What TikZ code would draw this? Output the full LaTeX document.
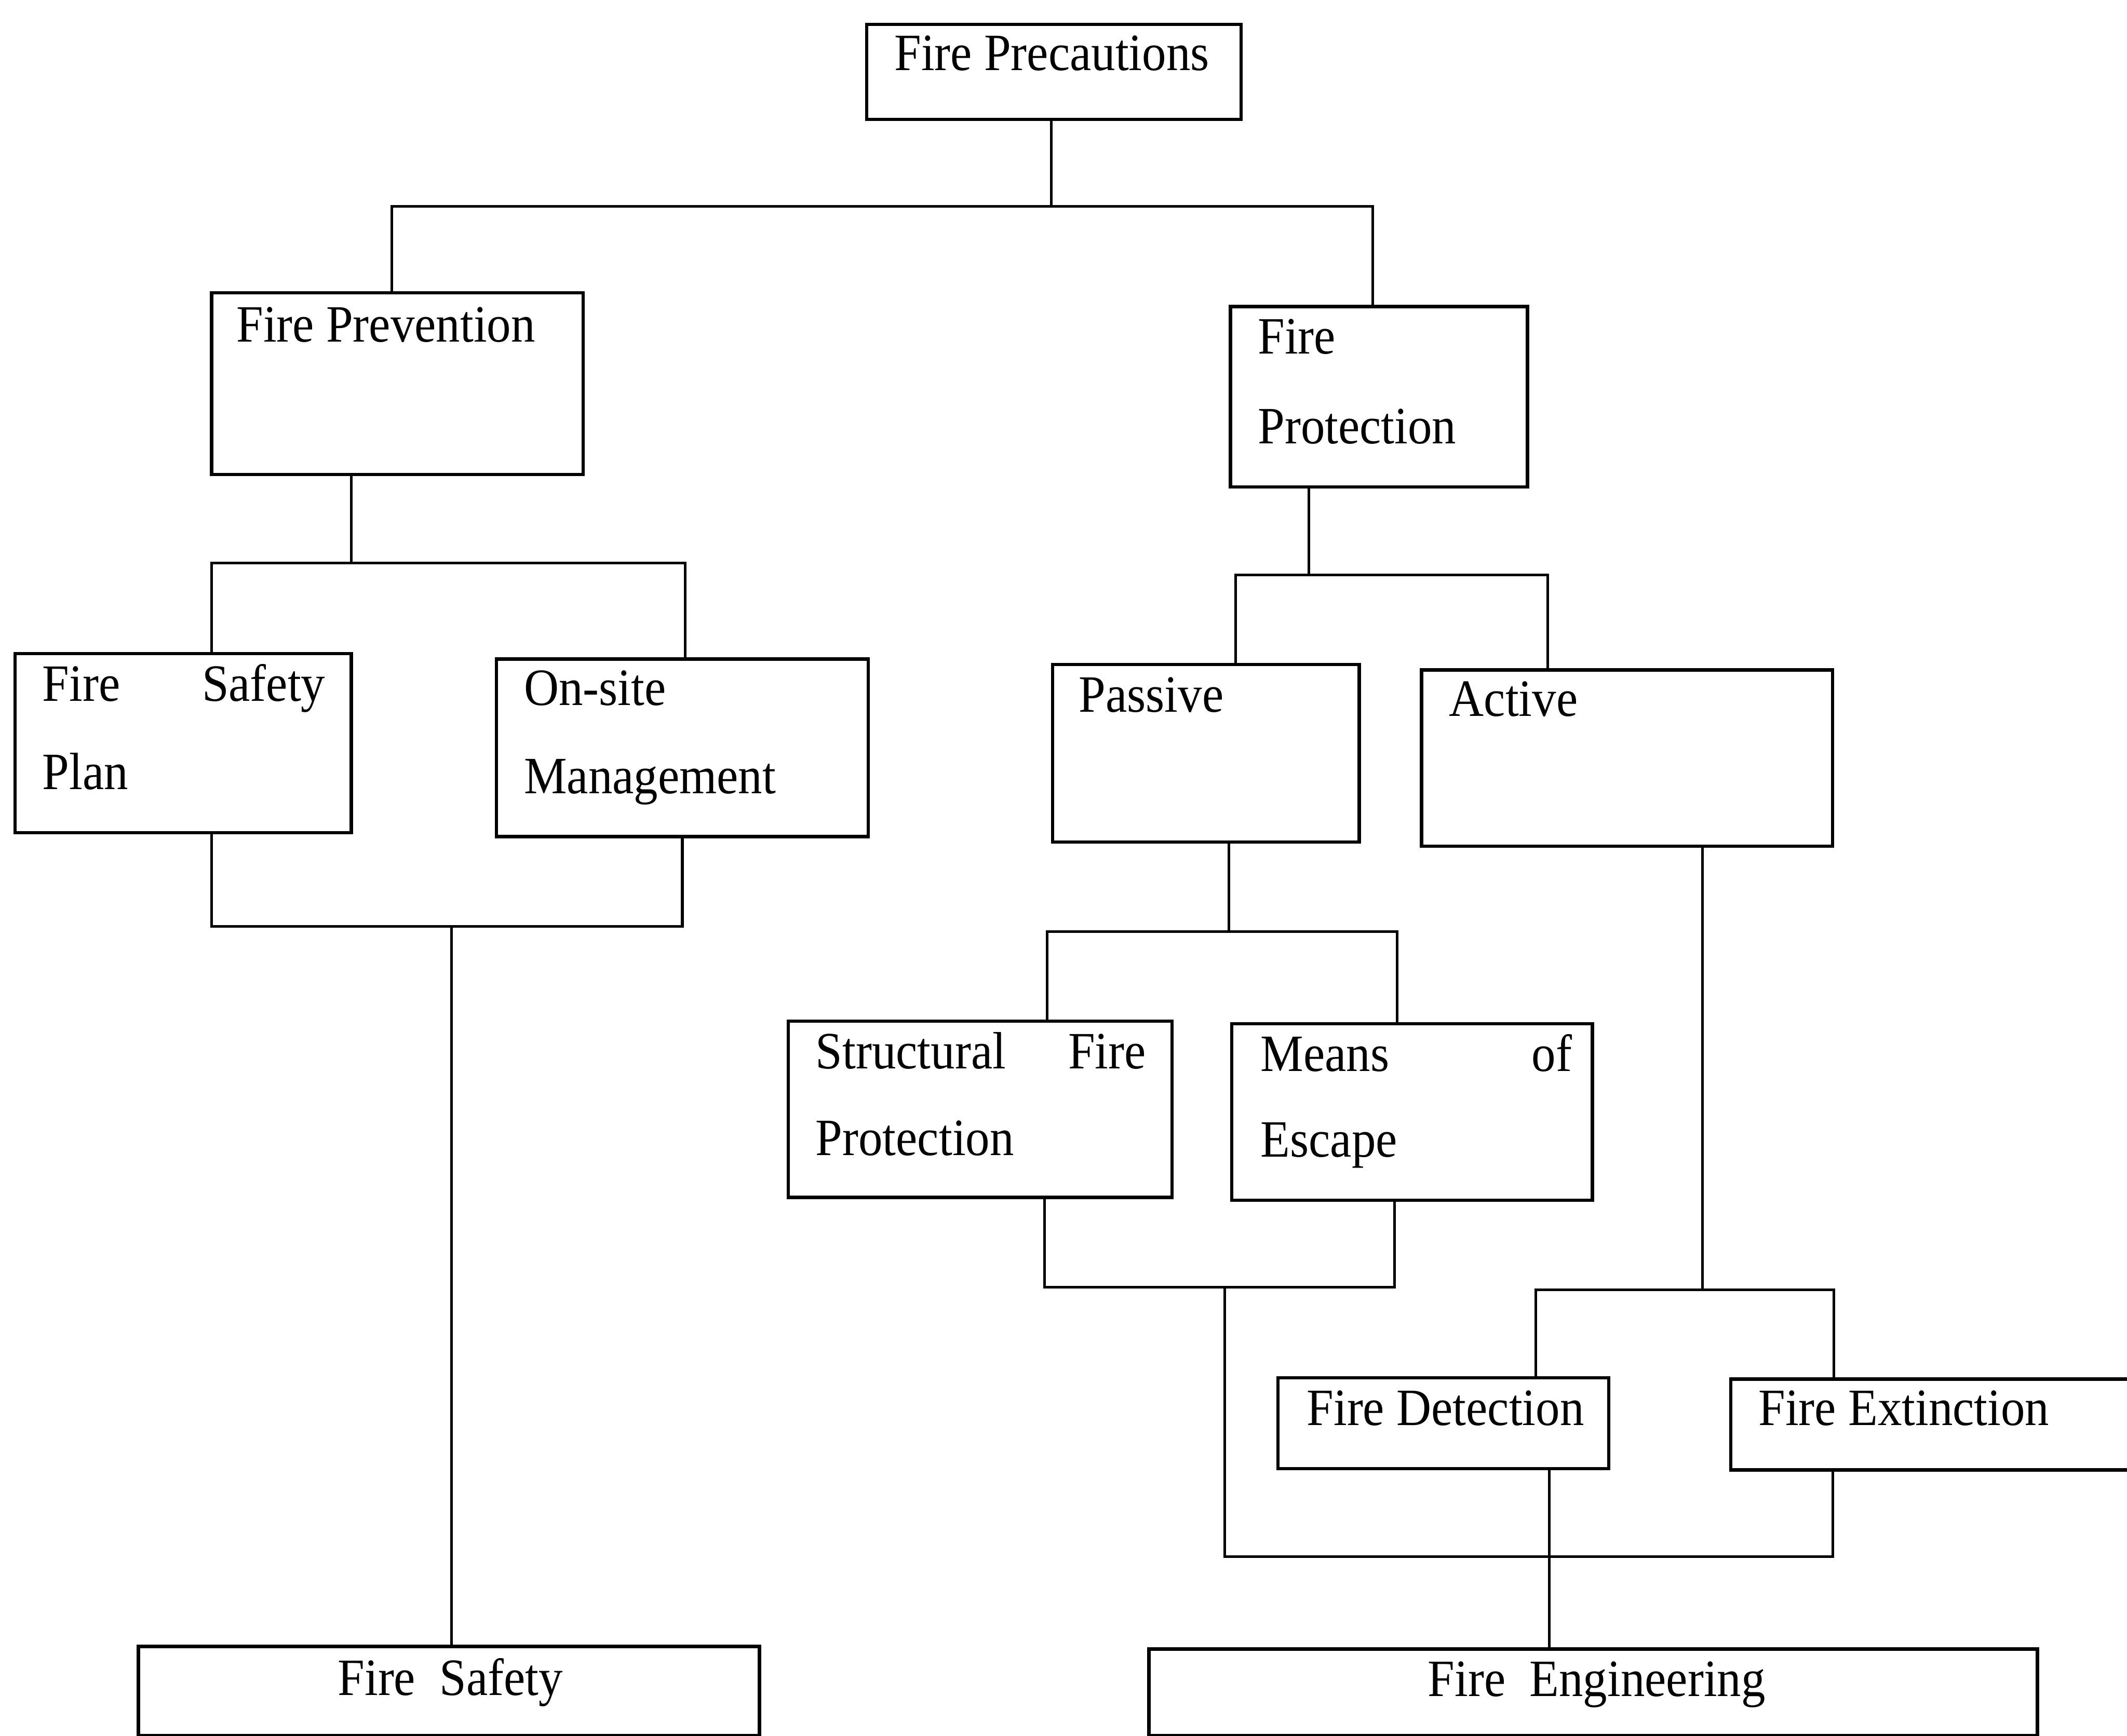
\documentclass[tikz,border=0pt]{standalone}
\usepackage{fontspec}
\setmainfont{Liberation Serif}[FakeStretch=0.92]
\begin{document}
\begin{tikzpicture}[x=0.02cm, y=-0.02cm,
  box/.style 2 args={draw, line width=1.4pt, minimum width=#1, minimum height=#2,
                     anchor=north west, inner sep=0pt, outer sep=0pt},
  conn/.style={line width=1.1pt},
  lbl/.style={inner sep=0pt, anchor=base west, font=\fontsize{22}{37}\selectfont},
  clbl/.style={lbl, anchor=base}]

\useasboundingbox (0,0) rectangle (1568,1280);
\clip (0,0) rectangle (1568,1280);

% ---- boxes ----
\node[box={5.52cm}{1.40cm}]  (prec)    at (639,18)   {};
\node[box={5.48cm}{2.68cm}]  (prev)    at (156,216)  {};
\node[box={4.38cm}{2.66cm}]  (prot)    at (907,226)  {};
\node[box={4.96cm}{2.64cm}]  (fsp)     at (11,482)   {};
\node[box={5.48cm}{2.62cm}]  (onsite)  at (366,486)  {};
\node[box={4.52cm}{2.62cm}]  (passive) at (776,490)  {};
\node[box={6.06cm}{2.60cm}]  (active)  at (1048,494) {};
\node[box={5.66cm}{2.60cm}]  (struct)  at (581,753)  {};
\node[box={5.32cm}{2.60cm}]  (means)   at (908,755)  {};
\node[box={4.88cm}{1.34cm}]  (detect)  at (942,1016) {};
\node[box={6.40cm}{1.34cm}]  (extinct) at (1276,1017) {};
\node[box={9.16cm}{1.32cm}]  (safety)  at (102,1214) {};
\node[box={13.10cm}{1.28cm}] (eng)     at (847,1216) {};

% ---- labels ----
\node[lbl] (precT) at (659,52) {Fire Precautions};
\node[lbl] (prevT) at (174,252) {Fire Prevention};
\node[lbl] (protT1) at (927,261) {Fire};
\node[lbl] (protT2) at (927,327) {Protection};
\node[lbl] (fspT1) at (31,517) {\makebox[4.17cm][l]{Fire\hfill Safety}};
\node[lbl] (fspT2) at (31,582) {Plan};
\node[lbl] (onsiteT1) at (386,520) {On-site};
\node[lbl] (onsiteT2) at (386,585) {Management};
\node[lbl] (passiveT) at (795,525) {Passive};
\node[lbl] (activeT) at (1068,528) {Active};
\node[lbl] (structT1) at (601,788) {\makebox[4.87cm][l]{Structural\hfill Fire}};
\node[lbl] (structT2) at (601,852) {Protection};
\node[lbl] (meansT1) at (929,790) {\makebox[4.59cm][l]{Means\hfill of}};
\node[lbl] (meansT2) at (929,853) {Escape};
\node[lbl] (detectT) at (963,1051) {Fire Detection};
\node[lbl] (extinctT) at (1296,1051) {Fire Extinction};
\node[clbl] (safetyT) at (332,1250) {Fire\ \ Safety};
\node[clbl] (engT) at (1177,1251) {Fire\ \ Engineering};

% ---- junction points ----
\coordinate (barA) at (775,152);
\coordinate (barB) at (259,415);
\coordinate (barC) at (333,683);
\coordinate (barD) at (965,424);
\coordinate (barE) at (906,687);
\coordinate (barF) at (903,949);
\coordinate (barG) at (1255,951);
\coordinate (barH) at (1142,1148);

% ---- connectors ----
\draw[conn] (775,0 |- prec.south) -- (barA);
\draw[conn] (289,0 |- prev.north) |- (barA) -| (1012,0 |- prot.north);

\draw[conn] (259,0 |- prev.south) -- (barB);
\draw[conn] (156,0 |- fsp.north) |- (barB) -| (505,0 |- onsite.north);

\draw[conn] (156,0 |- fsp.south) |- (barC) -| (503,0 |- onsite.south);
\draw[conn] (barC) -- (333,0 |- safety.north);

\draw[conn] (965,0 |- prot.south) -- (barD);
\draw[conn] (911,0 |- passive.north) |- (barD) -| (1141,0 |- active.north);

\draw[conn] (906,0 |- passive.south) -- (barE);
\draw[conn] (772,0 |- struct.north) |- (barE) -| (1030,0 |- means.north);

\draw[conn] (770,0 |- struct.south) |- (barF) -| (1028,0 |- means.south);
\draw[conn] (barF) |- (barH) -| (1351,0 |- extinct.south);

\draw[conn] (1255,0 |- active.south) -- (barG);
\draw[conn] (1132,0 |- detect.north) |- (barG) -| (1352,0 |- extinct.north);

\draw[conn] (1142,0 |- detect.south) -- (1142,0 |- eng.north);
\end{tikzpicture}
\end{document}
